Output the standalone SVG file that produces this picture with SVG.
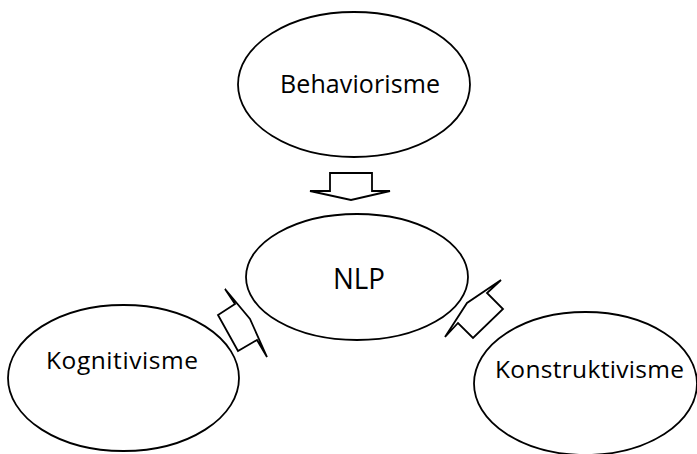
<svg xmlns="http://www.w3.org/2000/svg" width="697" height="454" viewBox="0 0 697 454">
<style>
.node ellipse{fill:#fff;stroke:#000;stroke-width:1.8}
.node text{font-family:"Open Sans","Liberation Sans",sans-serif;font-size:24.5px;fill:#000}
.conn polygon{fill:#fff;stroke:#000;stroke-width:1.8;stroke-linejoin:miter}
</style>
<rect width="697" height="454" fill="#fff"/>
<g id="behaviorisme" class="node">
<ellipse cx="354" cy="84.5" rx="116" ry="72.5"/>
<text x="280" y="93" style="font-size:25px" textLength="160" lengthAdjust="spacing">Behaviorisme</text>
</g>
<g id="nlp" class="node">
<ellipse cx="357" cy="277" rx="111" ry="63"/>
<text x="333" y="289" style="font-size:30px" textLength="52" lengthAdjust="spacingAndGlyphs">NLP</text>
</g>
<g id="kognitivisme" class="node">
<ellipse cx="123.5" cy="378" rx="115.5" ry="73"/>
<text x="46" y="369" textLength="152" lengthAdjust="spacing">Kognitivisme</text>
</g>
<g id="konstruktivisme" class="node">
<ellipse cx="585.5" cy="383.5" rx="111.5" ry="71.5"/>
<text x="495" y="378" textLength="189" lengthAdjust="spacing">Konstruktivisme</text>
</g>
<g id="connectors" class="conn">
<polygon points="330,173 372,173 372,191 390,191 351,200 310,191 330,191"/>
<polygon points="225,289 250,319 267,357 257,340 238,351 218,315 235,304"/>
<polygon points="501,280 467,303 445,337 458,323 473,338 503,309 487,293"/>
</g>
</svg>
